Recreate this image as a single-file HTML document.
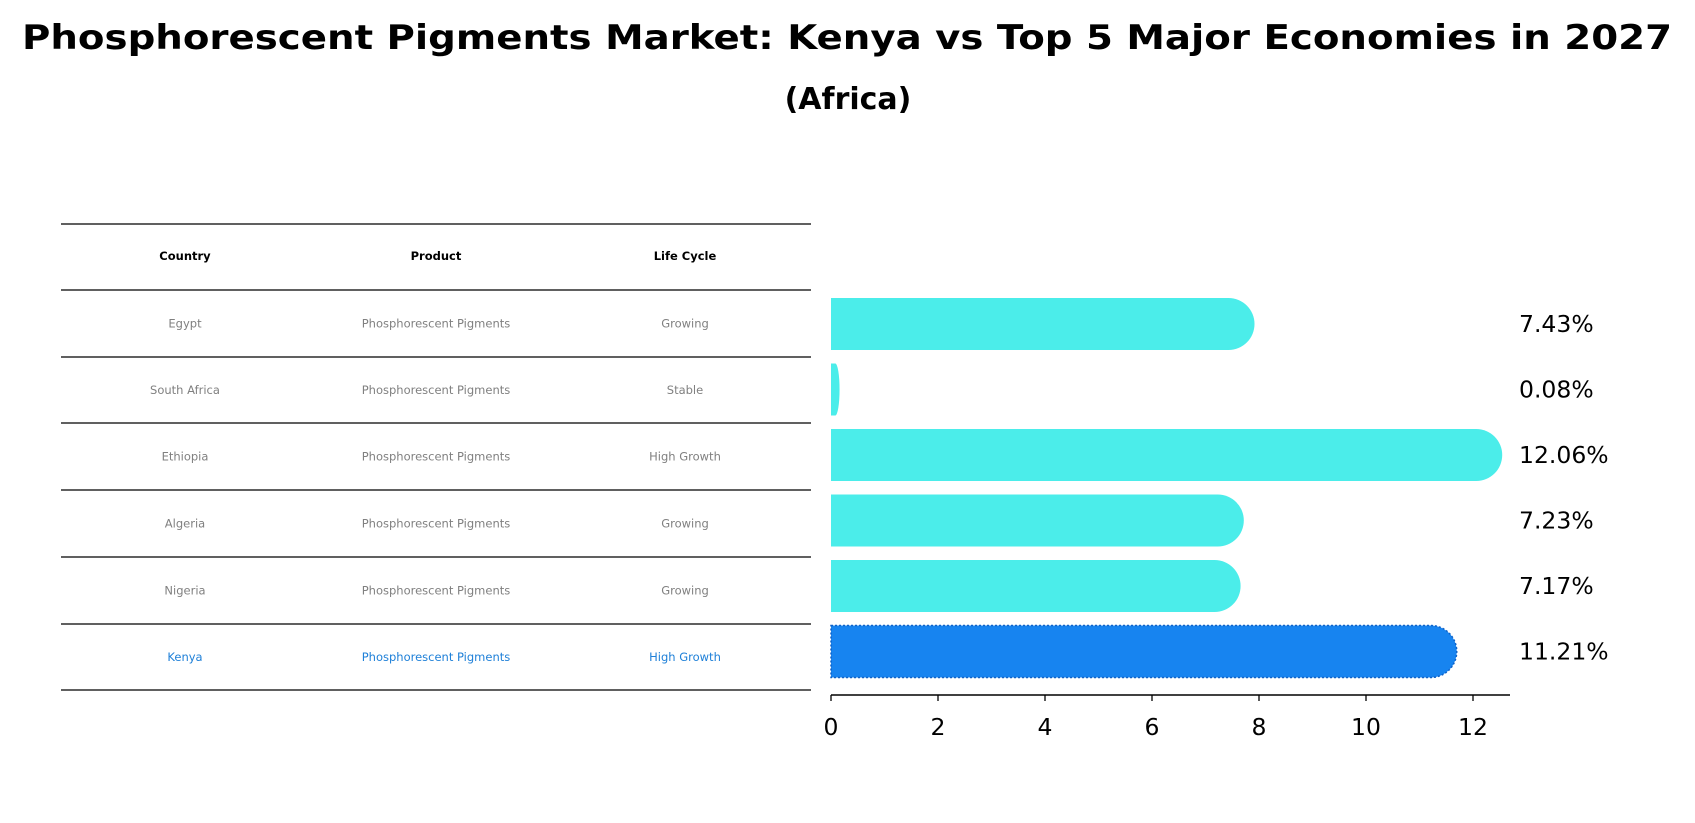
<!DOCTYPE html>
<html><head><meta charset="utf-8"><style>
html,body{margin:0;padding:0;background:#fff;}
svg{display:block;font-family:"DejaVu Sans","Liberation Sans",sans-serif;}
</style></head><body>
<svg id="chart" width="1695" height="823" viewBox="0 0 1695 823" xmlns="http://www.w3.org/2000/svg">
<text x="847" y="49" text-anchor="middle" font-size="34" font-weight="bold" textLength="1650" lengthAdjust="spacingAndGlyphs">Phosphorescent Pigments Market: Kenya vs Top 5 Major Economies in 2027</text>
<text x="848" y="109" text-anchor="middle" font-size="30" font-weight="bold">(Africa)</text>
<g id="table"></g>
<g id="bars"></g>
</svg>
<script>
const countries=["Egypt","South Africa","Ethiopia","Algeria","Nigeria","Kenya"];
const products=["Phosphorescent Pigments","Phosphorescent Pigments","Phosphorescent Pigments","Phosphorescent Pigments","Phosphorescent Pigments","Phosphorescent Pigments"];
const lifeCycles=["Growing","Stable","High Growth","Growing","Growing","High Growth"];
const growth=[7.43,0.08,12.06,7.23,7.17,11.21];
const valueLabels=["7.43%","0.08%","12.06%","7.23%","7.17%","11.21%"];
const xTicks=[0,2,4,6,8,10,12];

const NS="http://www.w3.org/2000/svg";
function mk(tag,attrs,parent){const e=document.createElementNS(NS,tag);for(const k in attrs)e.setAttribute(k,attrs[k]);parent.appendChild(e);return e;}
const tbl=document.getElementById('table');
const lineYs=[224,290,357,423,490,557,624,690];
const colX=[185,436,685];
lineYs.forEach((y,i)=>{const l=mk('line',{x1:61,x2:811,y1:y,y2:y,stroke:'#000','stroke-width':1.2},tbl);

});
["Country","Product","Life Cycle"].forEach((h,j)=>{const t=mk('text',{x:colX[j],y:260,'text-anchor':'middle','font-size':11.5,'font-weight':'bold'},tbl);t.textContent=h;

});
countries.forEach((c,i)=>{const y=(lineYs[i+1]+lineYs[i+2])/2+4;const col=i===countries.length-1?'#1f80d8':'#808080';
[c,products[i],lifeCycles[i]].forEach((v,j)=>{const t=mk('text',{x:colX[j],y:y,'text-anchor':'middle','font-size':11.5,fill:col},tbl);t.textContent=v;

});});

const g=document.getElementById('bars');
const x0=831,unit=53.5;
const xs=v=>x0+v*unit;
const rowY=i=>324+i*65.5;
const bh=52;
growth.forEach((v,i)=>{const cy=rowY(i);const isK=i===growth.length-1;
const fill=isK?'#1784F0':'#4BEDEA';
const w=xs(v)-x0;const r=Math.min(bh/2,w);
const p=mk('path',{d:`M${x0},${cy-bh/2} H${xs(v)} A${r},${bh/2} 0 0 1 ${xs(v)},${cy+bh/2} H${x0} Z`,fill:fill},g);
if(isK){p.setAttribute('stroke','#0f62c8');p.setAttribute('stroke-dasharray','2,2');p.setAttribute('stroke-width','1.5');}


const t=mk('text',{x:1519,y:cy+8,'font-size':23.5},g);t.textContent=valueLabels[i];

});
const ax=mk('line',{x1:x0,x2:1510,y1:695,y2:695,stroke:'#000','stroke-width':1.5},g);


xTicks.forEach(v=>{const tk=mk('line',{x1:xs(v),x2:xs(v),y1:695,y2:701,stroke:'#000','stroke-width':1.3},g);


const t=mk('text',{x:xs(v),y:735,'text-anchor':'middle','font-size':23.5},g);t.textContent=v;

});
</script>
</body></html>
